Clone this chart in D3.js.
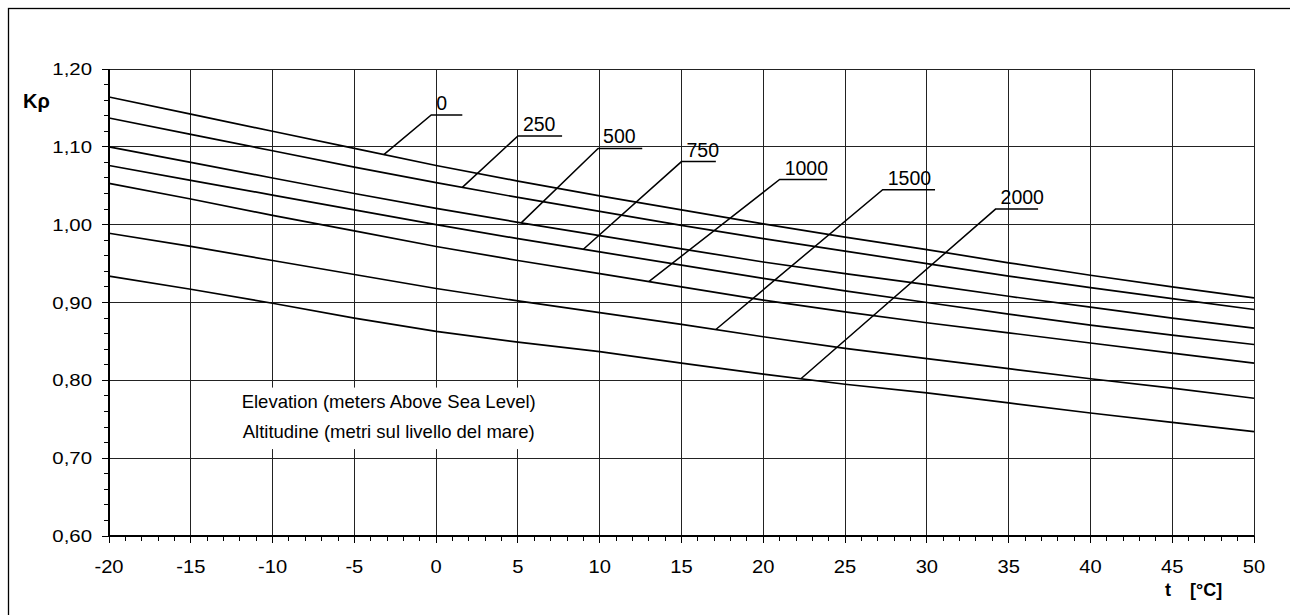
<!DOCTYPE html>
<html><head><meta charset="utf-8">
<script src="https://cdn.jsdelivr.net/npm/d3@7"></script>
<style>
body{margin:0;background:#fff}
svg{display:block}
text{font-family:"Liberation Sans",Arial,sans-serif;fill:#000}
</style>
</head><body>
<svg id="chart" width="1290" height="615"></svg>
<script>
// ---- data ----
const temps = [-20,-15,-10,-5,0,5,10,15,20,25,30,35,40,45,50];
const k0    = [1.164,1.142,1.120,1.098,1.076,1.056,1.037,1.019,1.001,0.984,0.968,0.951,0.935,0.920,0.906];
const k250  = [1.137,1.116,1.095,1.074,1.054,1.035,1.017,0.999,0.982,0.966,0.950,0.934,0.919,0.905,0.891];
const k500  = [1.100,1.080,1.060,1.040,1.021,1.003,0.986,0.969,0.952,0.937,0.923,0.908,0.894,0.880,0.867];
const k750  = [1.076,1.057,1.038,1.019,1.000,0.982,0.965,0.948,0.931,0.915,0.900,0.885,0.871,0.858,0.846];
const k1000 = [1.053,1.033,1.012,0.992,0.972,0.954,0.937,0.920,0.903,0.888,0.874,0.861,0.848,0.835,0.822];
const k1500 = [0.989,0.972,0.954,0.936,0.918,0.902,0.887,0.872,0.856,0.841,0.828,0.815,0.802,0.790,0.777];
const k2000 = [0.934,0.917,0.899,0.880,0.863,0.849,0.837,0.822,0.808,0.795,0.784,0.771,0.758,0.746,0.734];
const elevations = ["0","250","500","750","1000","1500","2000"];
const seriesList = [k0,k250,k500,k750,k1000,k1500,k2000];

// label annotations (data units): where the leader touches the curve, where the label underline starts
const attachT = [-3.2, 1.6, 5.2, 9.0, 13.0, 17.1, 22.3];
const labelT  = [-0.3, 5.0, 9.9, 15.0, 21.0, 27.3, 34.2];
const labelK  = [1.141, 1.114, 1.098, 1.081, 1.058, 1.045, 1.020];
const labelLen= [1.9, 2.7, 2.7, 2.1, 2.9, 3.2, 2.6];

const xTicks = [-20,-15,-10,-5,0,5,10,15,20,25,30,35,40,45,50];
const yTicks = [0.60,0.70,0.80,0.90,1.00,1.10,1.20];
const noteLines = ["Elevation (meters Above Sea Level)", "Altitudine (metri sul livello del mare)"];
const noteT = -2.9;
const noteK = [0.7650, 0.7258];

// ---- layout ----
const svg = d3.select("#chart");
const L = 109, R = 1254, T = 69, B = 536;
const x = d3.scaleLinear().domain([-20,50]).range([L,R]);
const y = d3.scaleLinear().domain([0.6,1.2]).range([B,T]);
const fmt = d => d.toFixed(2).replace(".", ",");

// outer frame
svg.append("rect").attr("x",8.5).attr("y",8.5).attr("width",1300).attr("height",640)
  .attr("fill","none").attr("stroke","#000").attr("stroke-width",1.3);

// grid
const grid = svg.append("g").attr("stroke","#222").attr("stroke-width",1).attr("shape-rendering","crispEdges");
grid.selectAll("line.v").data(xTicks).join("line").attr("class","v")
  .attr("x1",d=>x(d)).attr("x2",d=>x(d)).attr("y1",T).attr("y2",B);
grid.selectAll("line.h").data(yTicks).join("line").attr("class","h")
  .attr("x1",L).attr("x2",R).attr("y1",d=>y(d)).attr("y2",d=>y(d));

// note text with white box
const note = svg.append("g");
const noteBg = note.append("rect").attr("fill","#fff");
note.selectAll("text").data(noteLines).join("text")
  .attr("x", x(noteT)).attr("y",(d,i)=>y(noteK[i]))
  .attr("text-anchor","middle").attr("font-size",18.5).text(d=>d);
const bb = note.node().getBBox();
noteBg.attr("x",bb.x-15).attr("y",bb.y-3).attr("width",bb.width+30).attr("height",bb.height+10);

// curves
const line = d3.line().x((d,i)=>x(temps[i])).y(d=>y(d));
svg.append("g").selectAll("path").data(seriesList).join("path")
  .attr("d",line).attr("fill","none").attr("stroke","#000").attr("stroke-width",1.7);

// leaders + labels
const lab = svg.append("g");
elevations.forEach((name,i)=>{
  const interp = d3.scaleLinear().domain(temps).range(seriesList[i]);
  const ax = x(attachT[i]), ay = y(interp(attachT[i]));
  const lx = x(labelT[i]), ly = y(labelK[i]), rx = x(labelT[i]+labelLen[i]);
  lab.append("path").attr("d",`M${ax},${ay}L${lx},${ly}L${rx},${ly}`)
    .attr("fill","none").attr("stroke","#000").attr("stroke-width",1.5);
  lab.append("text").attr("x",lx+5).attr("y",ly-5).attr("font-size",19.5).text(name);
});

// axes
const ax = svg.append("g");
const yMinor = d3.range(0.60,1.2001,0.02);
const xMinor = d3.range(-20,50.001,1);
ax.selectAll("line.ym").data(yMinor).join("line").attr("class","ym")
  .attr("x1",L-5).attr("x2",L).attr("y1",d=>y(d)).attr("y2",d=>y(d))
  .attr("stroke","#000").attr("stroke-width",1).attr("shape-rendering","crispEdges");
ax.selectAll("line.yM").data(yTicks).join("line").attr("class","yM")
  .attr("x1",L-7).attr("x2",L).attr("y1",d=>y(d)).attr("y2",d=>y(d))
  .attr("stroke","#000").attr("stroke-width",1).attr("shape-rendering","crispEdges");
ax.selectAll("line.xm").data(xMinor).join("line").attr("class","xm")
  .attr("x1",d=>x(d)).attr("x2",d=>x(d)).attr("y1",B).attr("y2",B+4.5)
  .attr("stroke","#000").attr("stroke-width",1).attr("shape-rendering","crispEdges");
ax.selectAll("line.xM").data(xTicks).join("line").attr("class","xM")
  .attr("x1",d=>x(d)).attr("x2",d=>x(d)).attr("y1",B).attr("y2",B+7)
  .attr("stroke","#000").attr("stroke-width",1).attr("shape-rendering","crispEdges");
ax.append("line").attr("x1",L).attr("x2",L).attr("y1",T).attr("y2",B+1)
  .attr("stroke","#000").attr("stroke-width",2);
ax.append("line").attr("x1",L-1).attr("x2",R).attr("y1",B).attr("y2",B)
  .attr("stroke","#000").attr("stroke-width",2);

// tick labels
ax.selectAll("text.yl").data(yTicks).join("text").attr("class","yl")
  .attr("transform",d=>`translate(${L-17},${y(d)+6}) scale(1.2,1)`)
  .attr("text-anchor","end").attr("font-size",17).text(fmt);
ax.selectAll("text.xl").data(xTicks).join("text").attr("class","xl")
  .attr("transform",d=>`translate(${x(d)},${B+37}) scale(1.12,1)`)
  .attr("text-anchor","middle").attr("font-size",18).text(d=>d);

// axis titles
svg.append("text").attr("x",23).attr("y",108).attr("font-size",20).attr("font-weight","bold").text("Kρ");
svg.append("text").attr("x",1165).attr("y",596).attr("font-size",18).attr("font-weight","bold").text("t");
svg.append("text").attr("x",1190).attr("y",596).attr("font-size",18).attr("font-weight","bold").text("[°C]");
</script>
</body></html>
